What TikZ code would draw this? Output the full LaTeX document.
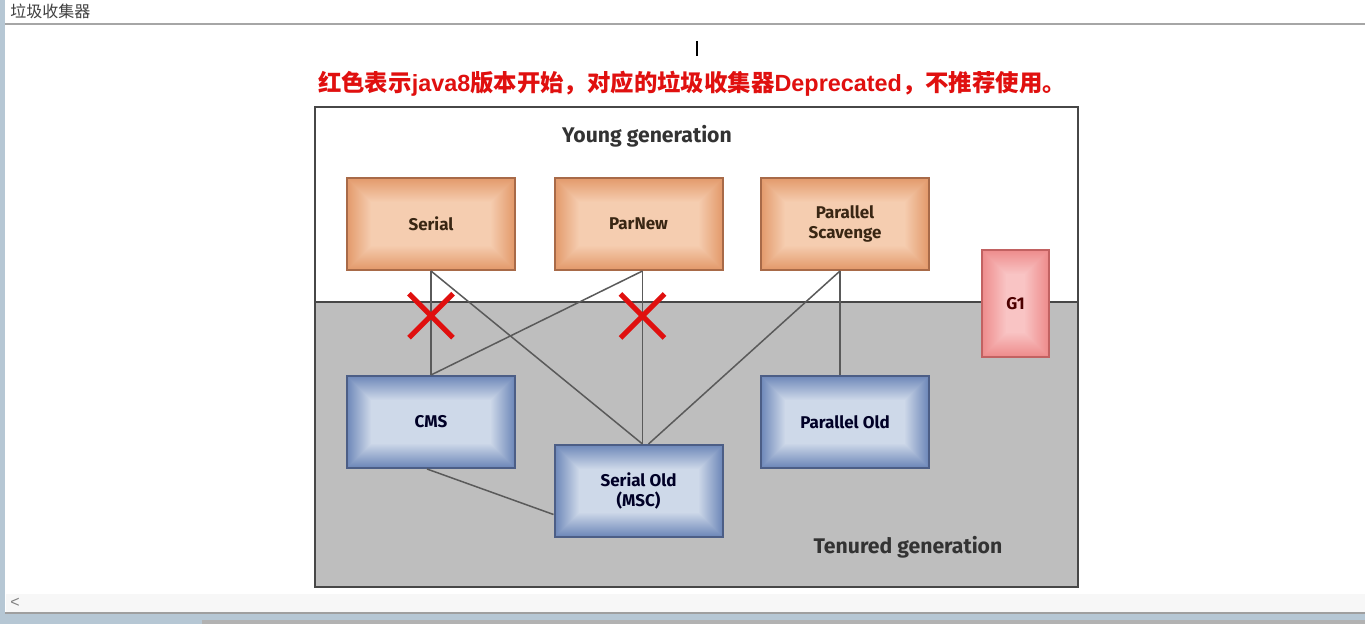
\documentclass[tikz,border=0pt]{standalone}
\usepackage{fontspec}
\setmainfont{Liberation Sans}
\newfontfamily\cjk{Noto Sans CJK SC}
\newfontfamily\labelfont{Fira Sans}
\usetikzlibrary{calc}

\definecolor{chromeblue}{HTML}{B6C7D4}
\definecolor{oldgray}{HTML}{BEBEBE}
\definecolor{framegray}{HTML}{474747}
\definecolor{linkgray}{HTML}{5A5A5A}
\definecolor{warnred}{HTML}{E0100F}
\definecolor{youngedge}{HTML}{E39A6B}
\definecolor{youngmid}{HTML}{F6CFB3}
\definecolor{youngline}{HTML}{A86A48}
\definecolor{tenuredge}{HTML}{6E88B9}
\definecolor{tenurmid}{HTML}{D2DCEB}
\definecolor{tenurline}{HTML}{4C5E86}
\definecolor{gonedge}{HTML}{EE8C8C}
\definecolor{gonemid}{HTML}{F9C6C6}
\definecolor{goneline}{HTML}{C26262}

\tikzset{
  gcbox/.style n args={3}{draw=#3, line width=1pt, minimum width=84pt,
    minimum height=46pt, align=center, inner sep=0pt,
    font=\labelfont\bfseries\fontsize{8.5}{10}\selectfont,
    path picture={
      \foreach \k in {0,...,24}{
        \pgfmathtruncatemacro\pct{\k*4}
        \fill[#2!\pct!#1]
          ($(path picture bounding box.south west)+(\k*0.5pt,\k*0.5pt)$) rectangle
          ($(path picture bounding box.north east)-(\k*0.5pt,\k*0.5pt)$);
      }
    }},
  young/.style={gcbox={youngedge}{youngmid}{youngline}, text=black!70!brown},
  tenured/.style={gcbox={tenuredge}{tenurmid}{tenurline}, text=black!85!blue},
  link/.style={draw=linkgray, line width=0.75pt},
  cross/.style={draw=warnred, line width=2.6pt},
  genlabel/.style={font=\labelfont\bfseries\fontsize{10.6}{12}\selectfont, text=black!80},
}

\begin{document}
\begin{tikzpicture}[x=0.5pt,y=-0.5pt]
  \useasboundingbox (0,0) rectangle (1365,624);

  % Window chrome
  \fill[white] (0,0) rectangle (1365,624);
  \fill[chromeblue] (0,0) rectangle (5,624);
  \node[anchor=west, inner sep=0pt, text=black!75, font=\cjk\fontsize{8}{9}\selectfont] (wintitle) at (10,11) {垃圾收集器};
  \draw[gray!70, line width=1pt] (5,24) -- (1365,24);
  \fill[gray!6] (6,594) rectangle (1365,612);
  \node[text=gray, font=\fontsize{8}{9}\selectfont] (scrollleft) at (15,603) {<};
  \draw[gray!75, line width=1pt] (5,613) -- (1365,613);
  \fill[chromeblue] (0,614) rectangle (1365,624);
  \fill[gray!60] (202,620) rectangle (1365,624);
  \draw[black, line width=1pt] (697,41) -- (697,56);

  % Note
  \node[text=warnred, font=\bfseries\fontsize{11.7}{13}\selectfont] (note) at (692,84)
    {{\cjk 红色表示}java8{\cjk 版本开始，对应的垃圾收集器}Deprecated{\cjk ，不推荐使用。}};

  % Generations
  \fill[white] (315,107) rectangle (1078,302);
  \fill[oldgray] (315,302) rectangle (1078,587);
  \draw[framegray, line width=1pt] (315,107) rectangle (1078,587);
  \draw[framegray, line width=1pt] (315,302) -- (1078,302);
  \node[genlabel] (younglabel) at (647,136) {Young generation};
  \node[genlabel] (tenuredlabel) at (908,547) {Tenured generation};

  % Collectors
  \node[young] (serial) at (431,224) {Serial};
  \node[young] (parnew) at (638.5,224) {ParNew};
  \node[young] (scavenge) at (845,224) {Parallel\\Scavenge};
  \node[gcbox={gonedge}{gonemid}{goneline}, minimum width=33.5pt, minimum height=53.5pt,
    text=black!70!red] (g1) at (1015.5,303.5) {G1};
  \node[tenured] (cms) at (431,422) {CMS};
  \node[tenured] (serialold) at (638.5,491) {Serial Old\\(MSC)};
  \node[tenured] (parold) at (845,422) {Parallel Old};

  % Combinations
  \draw[link] (serial.south) -- (cms.north);
  \draw[link] (serial.south) -- ($(serialold.north)+(4,0)$);
  \draw[link] ($(parnew.south)+(4,0)$) -- (cms.north);
  \draw[link] ($(parnew.south)+(4,0)$) -- ($(serialold.north)+(4,0)$);
  \draw[link] ($(scavenge.south)+(-5,0)$) -- ($(serialold.north)+(10,0)$);
  \draw[link] ($(scavenge.south)+(-5,0)$) -- ($(parold.north)+(-5,0)$);
  \draw[link] ($(cms.south)+(-4,0)$) -- ($(serialold.south west)!0.25!(serialold.north west)$);

  % Deprecated pairs
  \coordinate (cutone) at ($(serial.south)!0.43!(cms.north)$);
  \coordinate (cuttwo) at ($(parnew.south)!0.26!(serialold.north)+(4,0)$);
  \foreach \c in {cutone,cuttwo}{
    \draw[cross] ($(\c)+(-22,-22)$) -- ($(\c)+(22,22)$);
    \draw[cross] ($(\c)+(-22,22)$) -- ($(\c)+(22,-22)$);
  }
\end{tikzpicture}
\end{document}
